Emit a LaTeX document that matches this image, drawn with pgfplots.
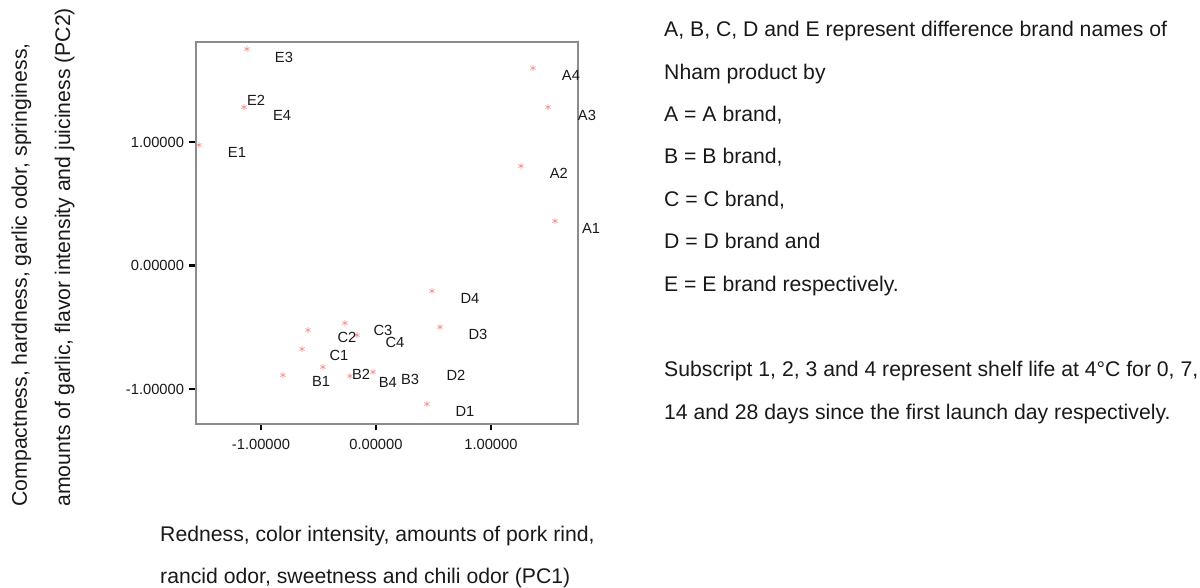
\documentclass[border=0pt]{standalone}
\usepackage{pgfplots}
\pgfplotsset{compat=1.18}
\usepackage{pgfplotstable}
\usepackage{fontspec}
\setmainfont{Liberation Sans}
\definecolor{mk}{RGB}{243,150,150}
\definecolor{frame}{RGB}{140,140,140}
\definecolor{txt}{RGB}{25,25,25}
\newcommand{\smallf}{\fontsize{14.7}{17}\selectfont}
\newcommand{\bigf}{\fontsize{21.2}{25}\selectfont}

\pgfplotstableread{
x y
-1.122 1.753
-1.148 1.283
-1.539 0.976
1.365 1.599
1.496 1.283
1.261 0.806
1.557 0.360
0.487 -0.206
0.557 -0.498
-0.591 -0.522
-0.270 -0.466
-0.165 -0.563
-0.643 -0.676
-0.809 -0.887
-0.461 -0.822
-0.226 -0.895
-0.026 -0.862
0.443 -1.121
}\points

\pgfplotstableread{
x y lab
-0.800 1.688 E3
-1.043 1.340 E2
-0.817 1.219 E4
-1.209 0.919 E1
1.696 1.543 A4
1.835 1.219 A3
1.591 0.749 A2
1.870 0.304 A1
0.817 -0.263 D4
0.887 -0.555 D3
0.696 -0.887 D2
0.774 -1.178 D1
0.061 -0.522 C3
-0.252 -0.579 C2
0.165 -0.619 C4
-0.322 -0.725 C1
-0.130 -0.879 B2
-0.478 -0.935 B1
0.104 -0.943 B4
0.296 -0.919 B3
}\labels

\begin{document}
\begin{tikzpicture}
\useasboundingbox (0pt,0pt) rectangle (1200pt,588pt);
\begin{axis}[
  at={(196pt,164pt)}, anchor=south west,
  width=382pt, height=382pt, scale only axis,
  xmin=-1.565, xmax=1.757, ymin=-1.283, ymax=1.810,
  clip=false,
  axis line style={frame, line width=1.3pt},
  xtick={-1,0,1}, ytick={-1,0,1},
  xticklabels={-1.00000,0.00000,1.00000},
  yticklabels={-1.00000,0.00000,1.00000},
  xtick pos=bottom, ytick pos=left,
  tick align=outside, major tick length=6.5pt,
  tick style={black, line width=2.2pt},
  ticklabel style={font=\smallf, text=txt},
  xticklabel style={yshift=-5pt},
  yticklabel style={xshift=-2pt},
]
\addplot[only marks, mark=asterisk, mark size=3pt, mk, line width=0.7pt] table[x=x,y=y] {\points};
\addplot[only marks, mark=none, point meta=explicit symbolic,
  nodes near coords, nodes near coords align=center,
  nodes near coords style={font=\smallf, text=txt, inner sep=0pt}]
  table[x=x,y=y,meta=lab] {\labels};
\end{axis}
\begin{scope}[text=txt]
\node[font=\bigf, rotate=90, anchor=base west] at (27pt,78pt) {Compactness, hardness, garlic odor, springiness,};
\node[font=\bigf, rotate=90, anchor=base west] at (70pt,78pt) {amounts of garlic, flavor intensity and juiciness (PC2)};
\node[font=\bigf, anchor=base west, inner sep=0pt] at (160pt,46pt) {Redness, color intensity, amounts of pork rind,};
\node[font=\bigf, anchor=base west, inner sep=0pt] at (160pt,4pt) {rancid odor, sweetness and chili odor (PC1)};
\node[font=\bigf, anchor=base west, inner sep=0pt] at (664pt,551pt) {A, B, C, D and E represent difference brand names of};
\node[font=\bigf, anchor=base west, inner sep=0pt] at (664pt,508pt) {Nham product by};
\node[font=\bigf, anchor=base west, inner sep=0pt] at (664pt,466pt) {A = A brand,};
\node[font=\bigf, anchor=base west, inner sep=0pt] at (664pt,424pt) {B = B brand,};
\node[font=\bigf, anchor=base west, inner sep=0pt] at (664pt,381pt) {C = C brand,};
\node[font=\bigf, anchor=base west, inner sep=0pt] at (664pt,339pt) {D = D brand and};
\node[font=\bigf, anchor=base west, inner sep=0pt] at (664pt,296pt) {E = E brand respectively.};
\node[font=\bigf, anchor=base west, inner sep=0pt] at (664pt,211pt) {Subscript 1, 2, 3 and 4 represent shelf life at 4°C for 0, 7,};
\node[font=\bigf, anchor=base west, inner sep=0pt] at (664pt,168pt) {14 and 28 days since the first launch day respectively.};
\end{scope}
\end{tikzpicture}
\end{document}
